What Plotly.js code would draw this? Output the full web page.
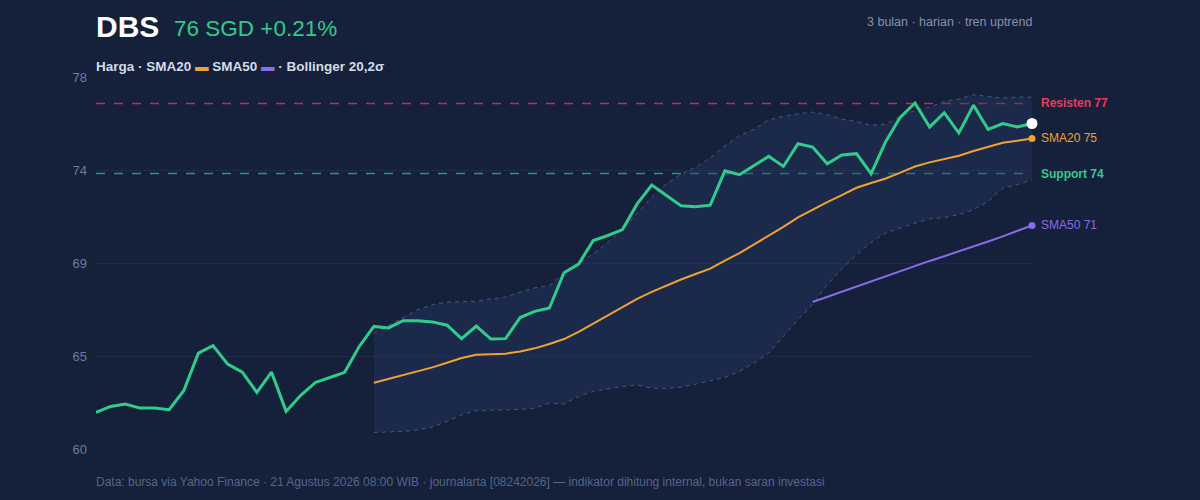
<!DOCTYPE html>
<html>
<head>
<meta charset="utf-8">
<script src="https://cdn.plot.ly/plotly-3.0.1.min.js"></script>
<style>
  html, body { margin: 0; padding: 0; background: #15203a; }
  #chart { width: 1200px; height: 500px; }
</style>
</head>
<body>
<div id="chart"></div>
<script>
// Daily closing price (SGD), 65 sessions
const harga = [61.77, 62.06, 62.18, 61.98, 61.98, 61.90, 62.82, 64.64, 65.00, 64.11,
  63.72, 62.74, 63.72, 61.82, 62.60, 63.22, 63.46, 63.71, 64.96, 65.93,
  65.86, 66.21, 66.21, 66.15, 65.99, 65.34, 65.95, 65.32, 65.34, 66.36,
  66.66, 66.82, 68.53, 68.95, 70.09, 70.33, 70.62, 71.86, 72.77, 72.27,
  71.77, 71.72, 71.80, 73.46, 73.27, 73.72, 74.16, 73.67, 74.77, 74.61,
  73.80, 74.23, 74.29, 73.32, 74.88, 76.06, 76.74, 75.58, 76.27, 75.29,
  76.64, 75.46, 75.75, 75.58, 75.75];

// SMA20 and Bollinger bands start at session 20 (index 19)
const sma20 = [63.21, 63.39, 63.56, 63.74, 63.95, 64.17, 64.40, 64.56, 64.60, 64.61,
  64.72, 64.87, 65.08, 65.32, 65.67, 66.06, 66.45, 66.84, 67.26, 67.60,
  67.92, 68.20, 68.47, 68.73, 69.11, 69.48, 69.90, 70.31, 70.75, 71.21,
  71.60, 71.95, 72.28, 72.64, 72.87, 73.09, 73.37, 73.67, 73.87, 74.03,
  74.19, 74.42, 74.63, 74.82, 74.92, 75.03];
const bbAtas = [65.61, 65.98, 66.39, 66.74, 66.98, 67.11, 67.13, 67.15, 67.27, 67.35,
  67.58, 67.80, 67.90, 68.54, 68.96, 69.45, 70.00, 70.60, 71.40, 72.20,
  72.83, 73.30, 73.64, 74.08, 74.67, 75.16, 75.48, 75.93, 76.09, 76.22,
  76.30, 76.17, 75.96, 75.85, 75.66, 75.72, 76.09, 76.37, 76.55, 76.82,
  76.93, 77.14, 77.06, 76.98, 77.03, 77.03];
const bbBawah = [60.80, 60.82, 60.85, 60.92, 61.06, 61.33, 61.65, 61.86, 61.87, 61.87,
  61.91, 61.98, 62.22, 62.18, 62.55, 62.79, 62.90, 63.03, 63.10, 62.95,
  62.92, 63.00, 63.14, 63.30, 63.46, 63.75, 64.16, 64.64, 65.45, 66.26,
  67.00, 67.95, 68.72, 69.40, 70.00, 70.45, 70.69, 70.93, 71.13, 71.20,
  71.34, 71.58, 71.98, 72.63, 72.79, 73.03];

// SMA50 starts at session 50 (index 49)
const sma50 = [67.11, 67.36, 67.60, 67.85, 68.11, 68.36, 68.62, 68.87, 69.10, 69.33,
  69.56, 69.80, 70.04, 70.29, 70.55, 70.82];

const resisten = 76.72;
const support = 73.33;

const yTickVals = [60, 64.5, 69, 73.5, 78];
const yTickText = ['60', '65', '69', '74', '78'];

const FONT = 'Liberation Sans, Arial, Helvetica, sans-serif';
const C_HARGA = '#2fcc8b';
const C_SMA20 = '#f0a232';
const C_SMA50 = '#8a6ce8';
const C_BAND = '#42577f';

const hari = harga.map((_, i) => i);
const xBand = hari.slice(hari.length - sma20.length);
const xSma50 = hari.slice(hari.length - sma50.length);
const last = hari.length - 1;

const data = [
  {
    x: xBand, y: bbBawah, type: 'scatter', mode: 'lines',
    line: { color: C_BAND, width: 1, dash: '4px,4px' },
    hoverinfo: 'skip'
  },
  {
    x: xBand, y: bbAtas, type: 'scatter', mode: 'lines',
    line: { color: C_BAND, width: 1, dash: '4px,4px' },
    fill: 'tonexty', fillcolor: 'rgba(38, 58, 100, 0.38)',
    hoverinfo: 'skip'
  },
  {
    x: xSma50, y: sma50, type: 'scatter', mode: 'lines',
    line: { color: C_SMA50, width: 2 }
  },
  {
    x: xBand, y: sma20, type: 'scatter', mode: 'lines',
    line: { color: C_SMA20, width: 2 }
  },
  {
    x: hari, y: harga, type: 'scatter', mode: 'lines',
    line: { color: C_HARGA, width: 3 }
  },
  // end markers
  {
    x: [last, last, last],
    y: [sma50[sma50.length - 1], sma20[sma20.length - 1], harga[last]],
    type: 'scatter', mode: 'markers', cliponaxis: false,
    marker: { color: [C_SMA50, C_SMA20, '#ffffff'], size: [7, 7, 11], opacity: 1,
              line: { width: 0 } }
  }
];

const shapes = [
  { type: 'line', xref: 'paper', x0: 0, x1: 1, yref: 'y', y0: resisten, y1: resisten,
    line: { color: '#b9314f', width: 1.5, dash: 'dash' }, layer: 'below' },
  { type: 'line', xref: 'paper', x0: 0, x1: 1, yref: 'y', y0: support, y1: support,
    line: { color: '#279b78', width: 1.5, dash: 'dash' }, layer: 'below' }
];

const annotations = [
  { xref: 'paper', yref: 'paper', x: 0, xshift: -2, y: 1.137, xanchor: 'left', yanchor: 'middle',
    text: '<b>DBS</b>', showarrow: false,
    font: { family: FONT, size: 30, color: '#ffffff' } },
  { xref: 'paper', yref: 'paper', x: 0.083, xshift: -2, y: 1.13, xanchor: 'left', yanchor: 'middle',
    text: '76 SGD +0.21%', showarrow: false,
    font: { family: FONT, size: 22.5, color: C_HARGA } },
  { xref: 'paper', yref: 'paper', x: 1, xshift: 2, y: 1.147, xanchor: 'right', yanchor: 'middle',
    text: '3 bulan · harian · tren uptrend', showarrow: false,
    font: { family: FONT, size: 12.5, color: '#8592ad' } },
  { xref: 'paper', yref: 'paper', x: 0, xshift: -2, y: 1.027, xanchor: 'left', yanchor: 'middle',
    text: '<b>Harga · SMA20 <span style="color:' + C_SMA20 + '">▬</span> SMA50 <span style="color:' + C_SMA50 + '">▬</span> · Bollinger 20,2σ</b>',
    showarrow: false,
    font: { family: FONT, size: 13.5, color: '#d3dbe8' } },
  { xref: 'paper', yref: 'paper', x: 0, xshift: -2, y: -0.088, xanchor: 'left', yanchor: 'middle',
    text: 'Data: bursa via Yahoo Finance · 21 Agustus 2026 08:00 WIB · journalarta [08242026] — indikator dihitung internal, bukan saran investasi',
    showarrow: false,
    font: { family: FONT, size: 12, color: '#55658a' } },
  // right-hand labels
  { xref: 'paper', yref: 'y', x: 1, xshift: 7, y: resisten, xanchor: 'left', yanchor: 'middle',
    text: '<b>Resisten 77</b>', showarrow: false,
    font: { family: FONT, size: 12, color: '#ea3a5c' } },
  { xref: 'paper', yref: 'y', x: 1, xshift: 7, y: sma20[sma20.length - 1], xanchor: 'left', yanchor: 'middle',
    text: 'SMA20 75', showarrow: false,
    font: { family: FONT, size: 12, color: C_SMA20 } },
  { xref: 'paper', yref: 'y', x: 1, xshift: 7, y: support, xanchor: 'left', yanchor: 'middle',
    text: '<b>Support 74</b>', showarrow: false,
    font: { family: FONT, size: 12, color: C_HARGA } },
  { xref: 'paper', yref: 'y', x: 1, xshift: 7, y: sma50[sma50.length - 1], xanchor: 'left', yanchor: 'middle',
    text: 'SMA50 71', showarrow: false,
    font: { family: FONT, size: 12, color: C_SMA50 } }
];

const layout = {
  width: 1200, height: 500,
  margin: { l: 96, r: 168, t: 77, b: 51, pad: 0 },
  paper_bgcolor: '#15203a',
  plot_bgcolor: '#15203a',
  showlegend: false,
  hovermode: false,
  xaxis: {
    range: [0, last], showgrid: false, zeroline: false,
    showticklabels: false, showline: false, fixedrange: true
  },
  yaxis: {
    range: [60, 78], tickvals: yTickVals, ticktext: yTickText,
    gridcolor: '#1f2b46', gridwidth: 1, zeroline: false, showline: false,
    ticks: '', ticklabelstandoff: 8,
    tickfont: { family: FONT, size: 13, color: '#6e7d9c' }, fixedrange: true
  },
  shapes: shapes,
  annotations: annotations
};

Plotly.newPlot('chart', data, layout, { displayModeBar: false, staticPlot: true });
</script>
</body>
</html>
